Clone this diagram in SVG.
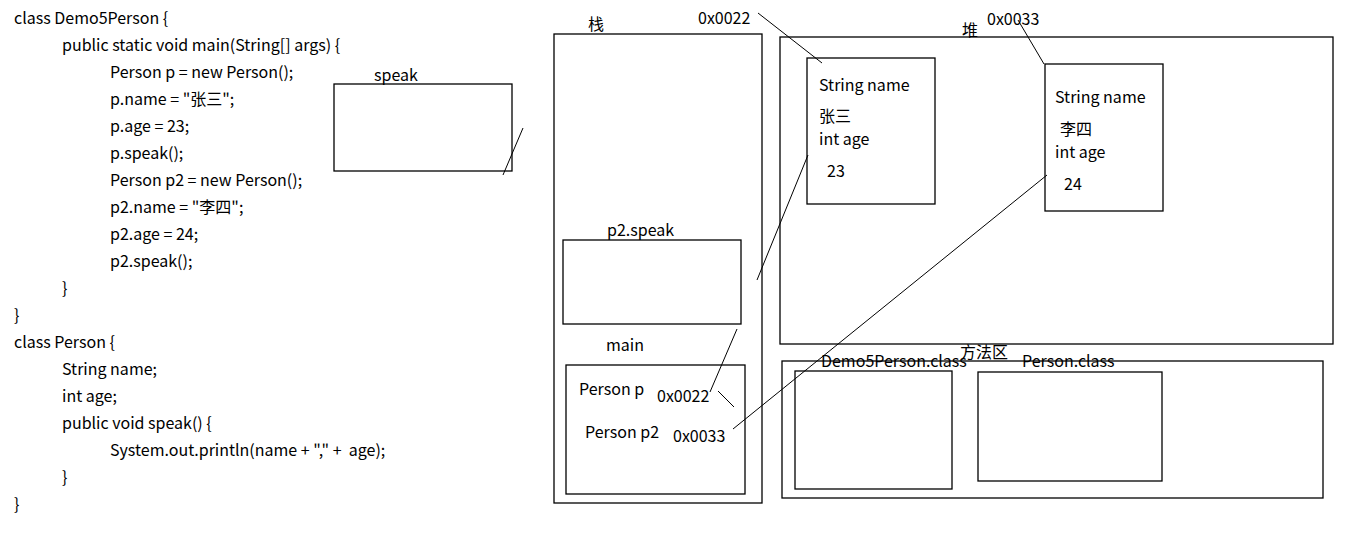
<svg xmlns="http://www.w3.org/2000/svg" width="1357" height="539" viewBox="0 0 1357 539">
<style>
text{font-family:"Noto Sans CJK SC","Noto Sans",sans-serif;font-size:16px;fill:#000}
.box{fill:none;stroke:#000;stroke-width:1.3}
.ln{fill:none;stroke:#000;stroke-width:1}
</style>
<rect width="1357" height="539" fill="#fff"/>
<g id="code">
<text x="14" y="24">class Demo5Person {</text>
<text x="62" y="51">public static void main(String[] args) {</text>
<text x="110" y="78">Person p = new Person();</text>
<text x="110" y="105">p.name = "张三";</text>
<text x="110" y="132">p.age = 23;</text>
<text x="110" y="159">p.speak();</text>
<text x="110" y="186">Person p2 = new Person();</text>
<text x="110" y="213">p2.name = "李四";</text>
<text x="110" y="240">p2.age = 24;</text>
<text x="110" y="267">p2.speak();</text>
<text x="62" y="294">}</text>
<text x="14" y="321">}</text>
<text x="14" y="348">class Person {</text>
<text x="62" y="375">String name;</text>
<text x="62" y="402">int age;</text>
<text x="62" y="429">public void speak() {</text>
<text x="110" y="456" xml:space="preserve">System.out.println(name + "," +  age);</text>
<text x="62" y="483">}</text>
<text x="14" y="510">}</text>
</g>
<g id="speak-frame">
<rect class="box" x="334" y="84" width="178" height="87"/>
<text x="374" y="81">speak</text>
</g>
<g id="stack">
<rect class="box" x="554" y="34" width="208" height="469"/>
<text x="588" y="30">栈</text>
</g>
<g id="p2speak-frame">
<rect class="box" x="563" y="240" width="178" height="84"/>
<text x="607" y="236">p2.speak</text>
</g>
<g id="main-frame">
<rect class="box" x="566" y="365" width="179" height="129"/>
<text x="606" y="351">main</text>
<text x="579" y="395">Person p</text>
<text x="657" y="402">0x0022</text>
<text x="585" y="438">Person p2</text>
<text x="673" y="442">0x0033</text>
</g>
<g id="heap">
<rect class="box" x="780" y="37" width="553" height="307"/>
<text x="962" y="36">堆</text>
</g>
<g id="obj1">
<rect class="box" x="807" y="58" width="128" height="146"/>
<text x="819" y="91">String name</text>
<text x="819" y="122">张三</text>
<text x="819" y="145">int age</text>
<text x="827" y="177">23</text>
<text x="698" y="24">0x0022</text>
</g>
<g id="obj2">
<rect class="box" x="1045" y="64" width="118" height="147"/>
<text x="1055" y="103">String name</text>
<text x="1060" y="135">李四</text>
<text x="1055" y="158">int age</text>
<text x="1064" y="190">24</text>
<text x="987" y="25">0x0033</text>
</g>
<g id="method-area">
<rect class="box" x="782" y="361" width="541" height="137"/>
<text x="960" y="358">方法区</text>
</g>
<g id="demo5class">
<rect class="box" x="795" y="371" width="157" height="118"/>
<text x="821" y="367">Demo5Person.class</text>
</g>
<g id="personclass">
<rect class="box" x="978" y="372" width="184" height="109"/>
<text x="1022" y="367">Person.class</text>
</g>
<g id="connectors">
<line class="ln" x1="523" y1="128" x2="503" y2="175"/>
<line class="ln" x1="758" y1="13" x2="822" y2="63"/>
<line class="ln" x1="1018" y1="20" x2="1044" y2="64"/>
<line class="ln" x1="808" y1="155" x2="757" y2="280"/>
<line class="ln" x1="737" y1="329" x2="710" y2="392"/>
<line class="ln" x1="718" y1="391" x2="734" y2="407"/>
<line class="ln" x1="733" y1="429" x2="1047" y2="175"/>
</g>
</svg>
